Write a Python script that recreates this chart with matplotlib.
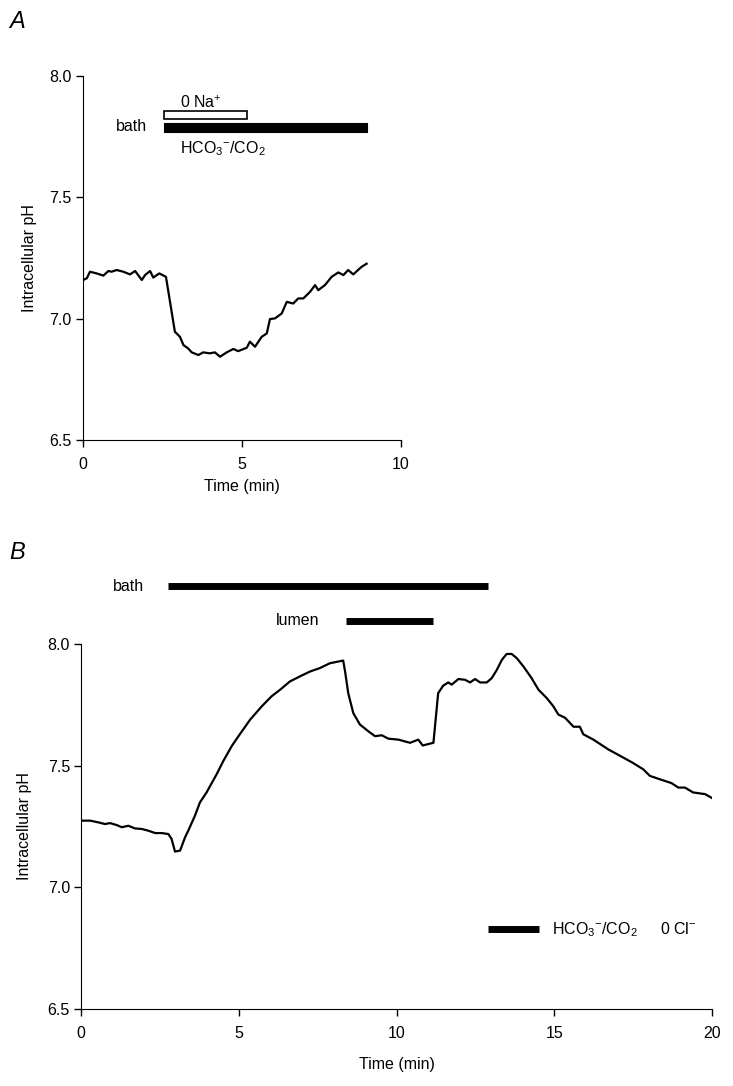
import matplotlib.pyplot as plt
import numpy as np

plt.rcParams['font.family'] = ['Liberation Sans', 'DejaVu Sans']
plt.rcParams['mathtext.fontset'] = 'custom'
plt.rcParams['mathtext.rm'] = 'Liberation Sans'
plt.rcParams['mathtext.it'] = 'Liberation Sans:italic'

# ---- panel A trace ----
time_a = [0.0, 0.01, 0.12, 0.22, 0.43, 0.64, 0.80, 0.90, 1.06, 1.27, 1.48, 1.64, 1.85,
          1.95, 2.11, 2.21, 2.40, 2.61, 2.89, 3.05, 3.16, 3.31, 3.42, 3.63, 3.78,
          3.99, 4.15, 4.31, 4.52, 4.73, 4.88, 5.15, 5.25, 5.41, 5.62, 5.78, 5.88,
          6.04, 6.25, 6.41, 6.61, 6.77, 6.93, 7.14, 7.30, 7.40, 7.61, 7.82, 8.03,
          8.19, 8.34, 8.50, 8.76, 8.92]
ph_a = [7.165, 7.159, 7.166, 7.193, 7.186, 7.177, 7.196, 7.193, 7.200, 7.193, 7.182, 7.196, 7.159,
        7.179, 7.196, 7.169, 7.186, 7.172, 6.946, 6.925, 6.891, 6.877, 6.861, 6.850, 6.861,
        6.857, 6.861, 6.843, 6.861, 6.875, 6.866, 6.880, 6.905, 6.884, 6.925, 6.939, 6.998,
        7.001, 7.021, 7.069, 7.062, 7.083, 7.083, 7.110, 7.138, 7.117, 7.138, 7.172, 7.190,
        7.179, 7.200, 7.182, 7.213, 7.226]

# solution bars in panel A (start, end in min)
na_free_a = (2.55, 5.16)
bicarb_a = (2.55, 8.93)

# ---- panel B trace ----
time_b = [0.0, 0.29, 0.55, 0.76, 0.92, 1.13, 1.29, 1.50, 1.71, 1.92, 2.13, 2.35, 2.56,
          2.77, 2.87, 2.98, 3.14, 3.30, 3.40, 3.61, 3.77, 3.98, 4.30, 4.51, 4.78,
          4.99, 5.36, 5.73, 6.04, 6.31, 6.62, 6.94, 7.26, 7.57, 7.89, 8.16, 8.31,
          8.37, 8.47, 8.63, 8.84, 9.11, 9.32, 9.53, 9.74, 10.06, 10.43, 10.69, 10.83,
          11.17, 11.32, 11.48, 11.64, 11.75, 11.96, 12.17, 12.33, 12.49, 12.65, 12.86,
          13.02, 13.18, 13.34, 13.49, 13.65, 13.81, 14.02, 14.28, 14.50, 14.76, 14.97,
          15.13, 15.34, 15.61, 15.81, 15.92, 16.24, 16.71, 17.19, 17.51, 17.82, 18.03,
          18.35, 18.72, 18.93, 19.14, 19.40, 19.78, 20.0]
ph_b = [7.274, 7.274, 7.267, 7.260, 7.264, 7.256, 7.247, 7.253, 7.242, 7.240, 7.233, 7.223, 7.223,
        7.219, 7.199, 7.147, 7.151, 7.206, 7.233, 7.294, 7.349, 7.390, 7.465, 7.519, 7.581,
        7.621, 7.689, 7.744, 7.785, 7.812, 7.846, 7.867, 7.887, 7.901, 7.921, 7.928, 7.932,
        7.887, 7.798, 7.716, 7.669, 7.641, 7.621, 7.625, 7.611, 7.607, 7.594, 7.607, 7.583,
        7.594, 7.798, 7.829, 7.842, 7.833, 7.856, 7.853, 7.842, 7.856, 7.842, 7.842,
        7.860, 7.894, 7.935, 7.959, 7.959, 7.942, 7.908, 7.860, 7.812, 7.778, 7.744,
        7.710, 7.697, 7.660, 7.660, 7.629, 7.607, 7.567, 7.533, 7.510, 7.485, 7.458,
        7.444, 7.428, 7.410, 7.410, 7.390, 7.383, 7.367]

# solution bars in panel B
bath_b = (2.77, 12.89)
lumen_b = (8.40, 11.17)
legend_bar_b = (12.91, 14.50)

fs = 11.5
bicarb_label = 'HCO$_3$$^{-}$/CO$_2$'

fig = plt.figure(figsize=(7.33, 10.86), dpi=100)
ax_a = fig.add_axes([0.1132, 0.5948, 0.4338, 0.3355])
ax_b = fig.add_axes([0.1105, 0.0709, 0.8609, 0.3361])

for ax in (ax_a, ax_b):
    ax.spines['top'].set_visible(False)
    ax.spines['right'].set_visible(False)
    ax.set_ylim(6.5, 8.0)
    ax.set_yticks([6.5, 7.0, 7.5, 8.0])
    ax.set_yticklabels(['6.5', '7.0', '7.5', '8.0'])
    ax.tick_params(direction='out', length=5, width=1, labelsize=fs, pad=3)
    ax.tick_params(axis='x', pad=7)
    ax.set_ylabel('Intracellular pH', fontsize=fs)
    ax.set_xlabel('Time (min)', fontsize=fs)

# ---- panel A ----
ax_a.plot(time_a, ph_a, color='black', lw=1.6)
ax_a.set_xlim(0, 10)
ax_a.set_xticks([0, 5, 10])
ax_a.xaxis.labelpad = 5
ax_a.yaxis.labelpad = 9
ax_a.add_patch(plt.Rectangle((na_free_a[0], 7.822), na_free_a[1] - na_free_a[0], 0.033,
                             facecolor='white', edgecolor='black', lw=1.2))
ax_a.add_patch(plt.Rectangle((bicarb_a[0], 7.768), bicarb_a[1] - bicarb_a[0], 0.037,
                             facecolor='black', edgecolor='black', lw=0.8))
ax_a.text(2.0, 7.792, 'bath', ha='right', va='center', fontsize=fs)
ax_a.text(3.05, 7.888, '0 Na$^{+}$', ha='left', va='center', fontsize=fs)
ax_a.text(3.05, 7.70, bicarb_label, ha='left', va='center', fontsize=fs)

# ---- panel B ----
ax_b.plot(time_b, ph_b, color='black', lw=1.6)
ax_b.set_xlim(0, 20)
ax_b.set_xticks([0, 5, 10, 15, 20])
ax_b.xaxis.labelpad = 12
ax_b.yaxis.labelpad = 11
ax_b.plot(bath_b, [8.238, 8.238], color='black', lw=5, solid_capstyle='butt', clip_on=False)
ax_b.plot(lumen_b, [8.095, 8.095], color='black', lw=5, solid_capstyle='butt', clip_on=False)
ax_b.text(2.0, 8.238, 'bath', ha='right', va='center', fontsize=fs)
ax_b.text(7.55, 8.095, 'lumen', ha='right', va='center', fontsize=fs)
ax_b.plot(legend_bar_b, [6.827, 6.827], color='black', lw=5, solid_capstyle='butt')
ax_b.text(14.92, 6.827, bicarb_label, ha='left', va='center', fontsize=fs)
ax_b.text(18.35, 6.827, '0 Cl$^{-}$', ha='left', va='center', fontsize=fs)

# panel letters
fig.text(0.012, 0.980, 'A', fontsize=17, style='italic', ha='left', va='center')
fig.text(0.012, 0.4915, 'B', fontsize=17, style='italic', ha='left', va='center')

fig.savefig('out.png', dpi=100)
